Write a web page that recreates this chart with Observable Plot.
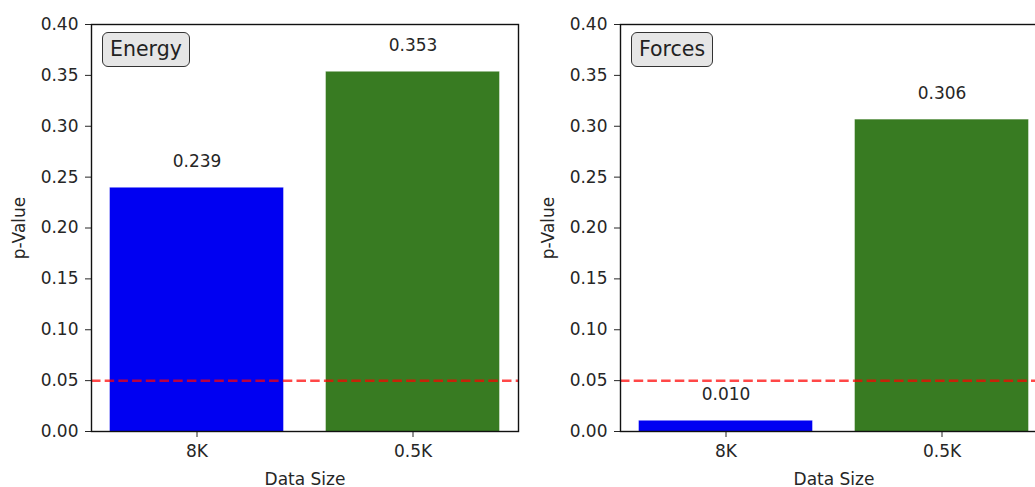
<!DOCTYPE html>
<html>
<head>
<meta charset="utf-8">
<script src="https://cdn.jsdelivr.net/npm/d3@7"></script>
<script src="https://cdn.jsdelivr.net/npm/@observablehq/plot@0.6"></script>
<style>
  html, body { margin: 0; padding: 0; background: #fff; overflow: hidden; width: 1035px; height: 487px; }
  #wrap { position: relative; width: 1035px; height: 487px; overflow: hidden; font-family: "DejaVu Sans", sans-serif; }
  .panel { position: absolute; top: 0; }
  .tag { position: absolute; box-sizing: border-box; background: #e6e6e6; border: 1.6px solid #333;
         border-radius: 6px; font-size: 20.5px; color: #222; line-height: 32px; text-align: center;
         font-family: "DejaVu Sans", sans-serif; }
</style>
</head>
<body>
<div id="wrap"></div>
<script>
const categories = ["8K", "0.5K"];
const panelTitles = ["Energy", "Forces"];
const energyValues = [0.239, 0.353];
const forcesValues = [0.010, 0.306];
const threshold = 0.05;
const yTicks = [0, 0.05, 0.10, 0.15, 0.20, 0.25, 0.30, 0.35, 0.40];
const barColors = ["#0000f2", "#387b22"];

const wrap = document.getElementById("wrap");

function panel(title, values, left) {
  const data = categories.map((c, i) => ({cat: c, v: values[i]}));
  const chart = Plot.plot({
    width: 530,
    height: 487,
    marginLeft: 91,
    marginRight: 12,
    marginTop: 24,
    marginBottom: 56,
    style: {fontFamily: "DejaVu Sans, sans-serif", fontSize: "17px", color: "#262626", background: "transparent"},
    x: {domain: categories, paddingInner: 0.2, paddingOuter: 0.088, label: null},
    y: {domain: [0, 0.4], label: null},
    color: {domain: categories, range: barColors},
    marks: [
      Plot.barY(data, {x: "cat", y: "v", fill: "cat", stroke: "cat", strokeOpacity: 0.6, strokeWidth: 1}),
      Plot.ruleY([threshold], {stroke: "#ff0000", strokeOpacity: 0.72, strokeWidth: 2.5, strokeDasharray: "9.5,4.2"}),
      Plot.text(data, {x: "cat", y: "v", text: d => d.v.toFixed(3), dy: -27, fontSize: 17, fill: "#262626"}),
      Plot.axisY({ticks: yTicks, tickFormat: d3.format(".2f"), tickSize: 6, tickPadding: 7,
                  label: "p-Value", labelAnchor: "center", labelArrow: "none", labelOffset: 79}),
      Plot.axisX({tickSize: 6, tickPadding: 7, label: "Data Size", labelAnchor: "center", labelArrow: "none", labelOffset: 53}),
      Plot.frame({stroke: "#111", strokeWidth: 1.4})
    ]
  });
  chart.classList.add("panel");
  chart.style.left = left + "px";
  wrap.appendChild(chart);
  const tag = document.createElement("div");
  tag.className = "tag";
  tag.textContent = title;
  tag.style.left = (left + 102) + "px";
  tag.style.top = "32px";
  tag.style.height = "35px";
  tag.style.padding = "0 7px";
  wrap.appendChild(tag);
}

panel(panelTitles[0], energyValues, 0);
panel(panelTitles[1], forcesValues, 529);
</script>
</body>
</html>
